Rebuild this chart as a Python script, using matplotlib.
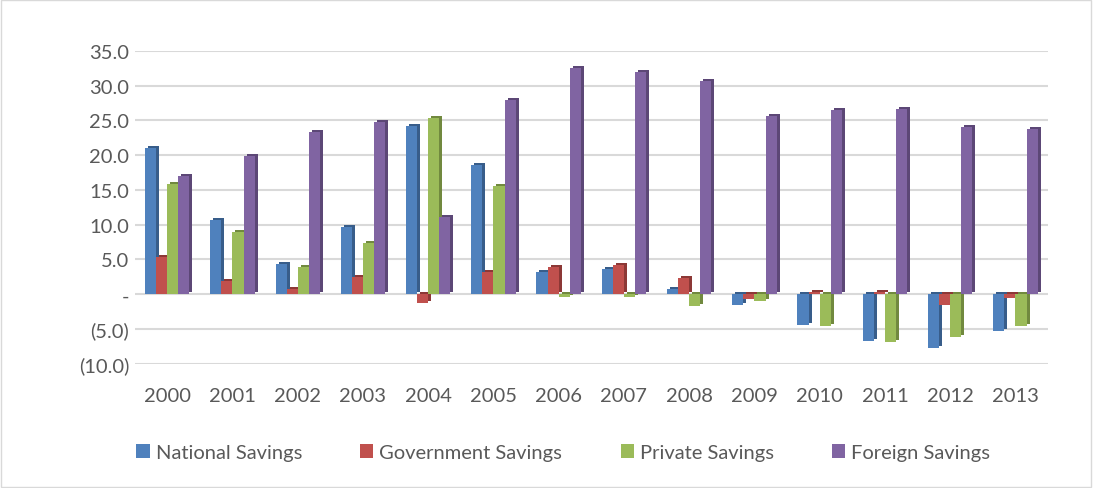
import matplotlib.pyplot as plt
import matplotlib.transforms as mtransforms
import numpy as np

plt.rcParams['font.family'] = ['Lato', 'DejaVu Sans']

years = ['2000', '2001', '2002', '2003', '2004', '2005', '2006',
         '2007', '2008', '2009', '2010', '2011', '2012', '2013']
national = [21.1, 10.7, 4.4, 9.6, 24.2, 18.6, 3.2, 3.7, 0.7, -1.6, -4.4, -6.7, -7.8, -5.3]
government = [5.3, 1.9, 0.8, 2.5, -1.2, 3.2, 3.9, 4.2, 2.3, -0.7, 0.3, 0.3, -1.5, -0.6]
private = [15.9, 9.0, 3.9, 7.3, 25.4, 15.5, -0.4, -0.4, -1.7, -0.9, -4.6, -6.9, -6.2, -4.6]
foreign = [17.0, 19.9, 23.3, 24.7, 11.1, 27.9, 32.6, 32.0, 30.6, 25.6, 26.5, 26.7, 24.1, 23.8]

series = [('National Savings', national, '#4F81BD', '#385D8A'),
          ('Government Savings', government, '#C0504D', '#8C3836'),
          ('Private Savings', private, '#9BBB59', '#71893F'),
          ('Foreign Savings', foreign, '#8064A2', '#5C4776')]

yticks = [35, 30, 25, 20, 15, 10, 5, 0, -5, -10]
yticklabels = ['35.0', '30.0', '25.0', '20.0', '15.0', '10.0', '5.0', '-', '(5.0)', '(10.0)']

fig = plt.figure(figsize=(10.94, 4.89), dpi=100)
ax = fig.add_axes([0.123, 0.254, 0.835, 0.64])

x = np.arange(len(years))
w = 0.17
shadow = mtransforms.offset_copy(ax.transData, fig=fig, x=3, y=2, units='dots')

for i, (name, vals, col, dark) in enumerate(series):
    pos = x + (i - 1.5) * w
    ax.bar(pos, vals, w, color=dark, transform=shadow, zorder=2)
    ax.bar(pos, vals, w, color=col, label=name, zorder=3)

ax.set_xlim(-0.5, len(years) - 0.5)
ax.set_ylim(-10, 35)
ax.set_yticks(yticks)
ax.set_yticklabels(yticklabels)
ax.set_xticks(x)
ax.set_xticklabels(years)
ax.grid(axis='y', color='#D9D9D9', linewidth=1.5, zorder=0)
ax.set_axisbelow(True)
for s in ax.spines.values():
    s.set_visible(False)
ax.tick_params(axis='both', length=0, labelsize=14.5, colors='#595959')
ax.tick_params(axis='y', pad=4)
ax.tick_params(axis='x', pad=17)

fig.legend(loc='center', bbox_to_anchor=(0.515, 0.072), ncol=4, frameon=False,
           fontsize=14.5, handlelength=0.65, handleheight=0.65, handletextpad=0.3,
           columnspacing=2.9, labelcolor='#595959')

fig.patches.append(plt.Rectangle((0.001, 0.003), 0.996, 0.994, transform=fig.transFigure,
                                 fill=False, edgecolor='#D9D9D9', linewidth=1))

fig.savefig('out.png', dpi=100)
